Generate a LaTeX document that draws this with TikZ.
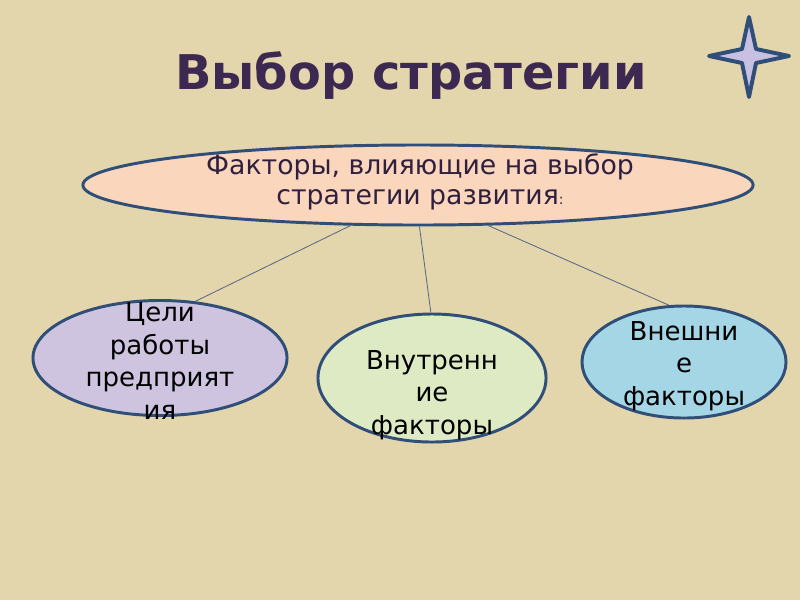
\documentclass[tikz,border=0pt]{standalone}
\usepackage{fontspec}
\setmainfont{DejaVu Sans}
\usetikzlibrary{shapes.geometric}

\definecolor{paper}{RGB}{228,214,172}
\definecolor{titlecol}{RGB}{60,40,80}
\definecolor{rim}{RGB}{47,78,120}
\definecolor{peach}{RGB}{250,214,188}
\definecolor{lilac}{RGB}{206,196,224}
\definecolor{mint}{RGB}{222,234,196}
\definecolor{sky}{RGB}{164,214,230}
\definecolor{starfill}{RGB}{200,192,226}
\definecolor{wire}{RGB}{90,104,136}

\begin{document}
\begin{tikzpicture}[x=0.025cm,y=-0.025cm,
  oval/.style={ellipse,draw=rim,line width=2.1pt,inner sep=0pt},
  txt/.style={align=center,font=\fontsize{18.5}{23}\selectfont},
  wirestyle/.style={draw=wire,line width=0.6pt}]
  % background
  \fill[paper] (0,0) rectangle (800,600);
  \useasboundingbox (0,0) rectangle (800,600);

  \node[text=titlecol,font=\fontsize{34}{40}\selectfont\bfseries] (title) at (411,76) {Выбор стратегии};

  % star
  \filldraw[fill=starfill,draw=rim,line width=2.8pt,line join=round]
    (749,17) -- (756,49) -- (789,56) -- (756,63) -- (749,97)
    -- (742,63) -- (709,56) -- (742,49) -- cycle;

  \node[oval,fill=peach,minimum width=16.75cm,minimum height=2cm] (top) at (418,185) {};
  \node[align=center,text=titlecol!80!black,font=\fontsize{19}{21.5}\selectfont] (toptxt) at (420,182)
    {Факторы, влияющие на выбор\\стратегии развития{\fontsize{10}{12}\selectfont:}};

  \node[oval,fill=lilac,minimum width=6.35cm,minimum height=2.875cm] (goals) at (160,358) {};
  \node[txt] (goalstxt) at (160,361) {Цели\\работы\\предприят\\ия};

  \node[oval,fill=mint,minimum width=5.7cm,minimum height=3.2cm] (inner) at (432,378) {};
  \node[txt] (innertxt) at (432,395) {Внутренн\\ие\\факторы};

  \node[oval,fill=sky,minimum width=5.1cm,minimum height=2.8cm] (outer) at (684,362) {};
  \node[txt] (outertxt) at (684,366) {Внешни\\е\\факторы};

  \draw[wirestyle] (top.211.8) -- (goals.58.4);
  \draw[wirestyle] (top.272.9) -- (inner.91.7);
  \draw[wirestyle] (top.330.5) -- (outer.105.7);
\end{tikzpicture}
\end{document}
